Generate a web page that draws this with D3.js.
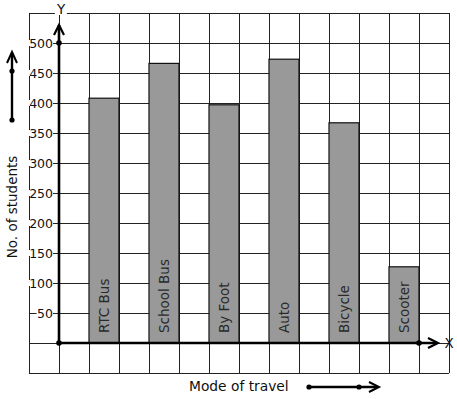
<!DOCTYPE html>
<html><head><meta charset="utf-8">
<script src="https://cdn.jsdelivr.net/npm/d3@7"></script>
<style>body{margin:0;background:#fff}svg{display:block}text{font-family:"DejaVu Sans",sans-serif}</style>
</head><body><svg id="c" width="457" height="399"></svg>
<script>
const categories = ["RTC Bus","School Bus","By Foot","Auto","Bicycle","Scooter"];
const students = [408, 466, 397, 473, 367, 127];
const yTicks = [50,100,150,200,250,300,350,400,450,500];

const svg = d3.select("#c");
const x = d3.scaleBand().domain(categories).range([59, 449]).paddingInner(0.5).paddingOuter(0.5);
const y = d3.scaleLinear().domain([-50, 550]).range([373, 13]);
const gx = d3.scaleLinear().domain([-1, 13]).range([29, 449]);

// grid
const grid = svg.append("g").attr("stroke", "#222").attr("stroke-width", 1).attr("shape-rendering","crispEdges");
grid.selectAll("line.v").data(d3.range(-1, 14)).join("line")
  .attr("x1", d => gx(d)).attr("x2", d => gx(d)).attr("y1", y(550)).attr("y2", y(-50));
grid.selectAll("line.h").data(d3.range(-50, 551, 50)).join("line")
  .attr("x1", gx(-1)).attr("x2", gx(13)).attr("y1", d => y(d)).attr("y2", d => y(d));

// bars
svg.append("g").selectAll("rect").data(students).join("rect")
  .attr("x", (d,i) => x(categories[i])).attr("width", x.bandwidth())
  .attr("y", d => y(d)).attr("height", d => y(0) - y(d))
  .attr("fill", "#999").attr("stroke", "#111").attr("stroke-width", 1.2);

// bar labels
svg.append("g").selectAll("text").data(categories).join("text")
  .attr("transform", d => `translate(${x(d) + x.bandwidth()/2},333) rotate(-90)`)
  .attr("dominant-baseline", "central").attr("font-size", 13.5).attr("fill", "#2a2a2a")
  .text(d => d);

// tick labels with white background
const tg = svg.append("g");
yTicks.forEach(v => {
  const t = tg.append("text").attr("x", 53).attr("y", y(v)).attr("text-anchor", "end")
    .attr("dominant-baseline", "central").attr("font-size", 12.5).attr("fill", "#111").text(v);
  const b = t.node().getBBox();
  tg.insert("rect", () => t.node()).attr("x", b.x - 0.5).attr("y", y(v) - 3).attr("width", b.width + 0.5).attr("height", 6).attr("fill", "#fff");
});

// axes
const ax = svg.append("g").attr("stroke", "#000").attr("fill", "none").attr("stroke-width", 2.6);
ax.append("line").attr("x1", 59).attr("x2", 59).attr("y1", y(0)).attr("y2", 25);
ax.append("path").attr("d", "M54,35 L59,25 L64,35").attr("stroke-width", 2.2);
ax.append("line").attr("x1", 59).attr("x2", 437).attr("y1", y(0)).attr("y2", y(0));
ax.append("path").attr("d", `M428,${y(0)-5} L438,${y(0)} L428,${y(0)+5}`).attr("stroke-width", 2.2);
svg.append("circle").attr("cx", 59).attr("cy", y(500)).attr("r", 2.8).attr("fill", "#000");
svg.append("circle").attr("cx", 59).attr("cy", y(0)).attr("r", 2.8).attr("fill", "#000");
svg.append("circle").attr("cx", 419).attr("cy", y(0)).attr("r", 2.8).attr("fill", "#000");

// axis letters
const yl = svg.append("text").attr("x", 61).attr("y", 9).attr("text-anchor", "middle")
  .attr("dominant-baseline", "central").attr("font-size", 13.5).attr("fill", "#111").text("Y");
const yb = yl.node().getBBox();
svg.insert("rect", () => yl.node()).attr("x", yb.x - 1).attr("y", 11).attr("width", yb.width + 2).attr("height", 4).attr("fill", "#fff");
svg.append("text").attr("x", 449).attr("y", y(0)).attr("text-anchor", "middle")
  .attr("dominant-baseline", "central").attr("font-size", 13.5).attr("fill", "#111").text("X");

// titles
svg.append("text").attr("transform", "translate(12,207) rotate(-90)").attr("text-anchor", "middle")
  .attr("dominant-baseline", "central").attr("font-size", 13.5).attr("fill", "#111").text("No. of students");
svg.append("text").attr("x", 189).attr("y", 386).attr("dominant-baseline", "central")
  .attr("font-size", 13.8).attr("fill", "#111").text("Mode of travel");

// decorative arrows
const dec = svg.append("g").attr("stroke", "#000").attr("fill", "none").attr("stroke-width", 2.4);
dec.append("line").attr("x1", 12).attr("x2", 12).attr("y1", 120).attr("y2", 53);
dec.append("path").attr("d", "M7,63 L12,52 L17,63").attr("stroke-width", 2);
svg.append("circle").attr("cx", 12).attr("cy", 71).attr("r", 2.6);
svg.append("circle").attr("cx", 12).attr("cy", 120).attr("r", 2.6);
dec.append("line").attr("x1", 309).attr("x2", 377).attr("y1", 387).attr("y2", 387);
dec.append("path").attr("d", "M369,382 L379,387 L369,392").attr("stroke-width", 2);
svg.append("circle").attr("cx", 309).attr("cy", 387).attr("r", 2.6);
svg.append("circle").attr("cx", 359).attr("cy", 387).attr("r", 2.6);
</script></body></html>
